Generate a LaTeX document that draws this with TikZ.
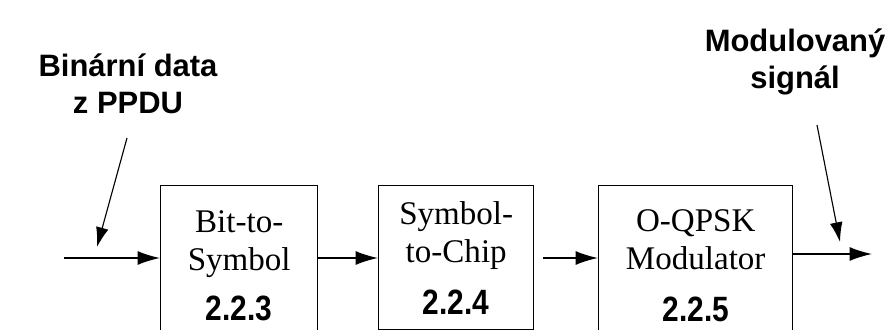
\documentclass[tikz,border=0pt]{standalone}
\usepackage{fontspec}
\setmainfont{Liberation Serif}
\newfontfamily\popisfont{Liberation Sans}
\newfontfamily\cislofont[FakeStretch=0.85]{Liberation Sans}
\usetikzlibrary{arrows.meta}
\newcommand{\pix}{0.025cm}
\newcommand{\cislo}[1]{{\cislofont\bfseries\fontsize{25}{25}\selectfont #1}}
\tikzset{
  blok/.style={draw, line width=1pt, anchor=north west, align=center, inner sep=0pt,
    font=\fontsize{23.5}{27}\selectfont},
  sipka/.style={line width=1pt, -{Latex[length=16pt,width=10pt]}},
  sikma/.style={line width=0.8pt, -{Latex[length=14pt,width=9pt]}},
  popis/.style={align=center, inner sep=0pt, font=\popisfont\bfseries\fontsize{22}{26}\selectfont},
}
\begin{document}
\begin{tikzpicture}[x=\pix, y=-\pix]
        \useasboundingbox (0,0) rectangle (886,329);
        \clip (0,0) rectangle (886,329);
        %%%%%%%%%%%%%%%%%%%%%%%% Bloky %%%%%%%%%%%%%%%%%%%%%%%%%%%%%%%%%%%
        \node[blok, minimum width=157*\pix, minimum height=160*\pix] (bit) at (160,185)
          {Bit-to-\\Symbol\\[8pt]\cislo{2.2.3}}; %Bit-to-Symbol
        \node[blok, minimum width=155*\pix, minimum height=144*\pix] (chip) at (378,185)
          {Symbol-\\to-Chip\\[10pt]\cislo{2.2.4}}; %Symbol-to-Chip
        \node[blok, minimum width=194*\pix, minimum height=160*\pix] (mod) at (598,185)
          {O-QPSK\\Modulator\\[10pt]\cislo{2.2.5}}; %Modulator
        %%%%%%%%%%%%%%%%%%%%%%%% Popisky %%%%%%%%%%%%%%%%%%%%%%%%%%%%%%%%%%
        \node[popis] (vstup) at (128,84) {Binární data\\z PPDU};
        \node[popis] (vystup) at (795,62) {Modulovaný\\signál};
        %%%%%%%%%%%%%%%%%%%%%%%% Body %%%%%%%%%%%%%%%%%%%%%%%%%%%%%%%%%%%%%
        \coordinate (in) at (64,258);
        \coordinate (out) at (872,254);
        \coordinate (vstupA) at (127,138);
        \coordinate (vstupB) at (97,247);
        \coordinate (vystupA) at (817,125);
        \coordinate (vystupB) at (840,242);
        %%%%%%%%%%%%%%%%%%%%%%%% Sipky %%%%%%%%%%%%%%%%%%%%%%%%%%%%%%%%%%%%
        \draw[sipka] (in) -- (bit.west |- in);
        \draw[sipka] (bit.east |- in) -- (chip.west |- in);
        \draw[sipka, shorten <=9*\pix] (chip.east |- in) -- (mod.west |- in);
        \draw[sipka] (mod.east |- out) -- (out);
        \draw[sikma] (vstupA) -- (vstupB);
        \draw[sikma] (vystupA) -- (vystupB);
\end{tikzpicture}
\end{document}
